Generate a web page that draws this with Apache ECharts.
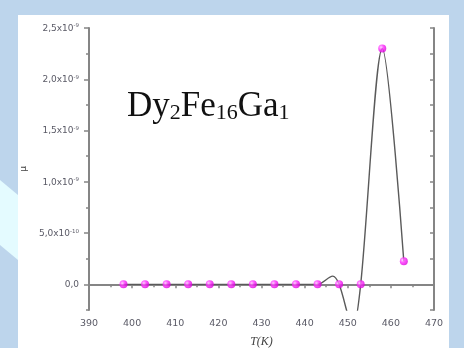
<!DOCTYPE html>
<html>
<head>
<meta charset="utf-8">
<script src="https://cdn.jsdelivr.net/npm/echarts@6/dist/echarts.min.js"></script>
<style>
html,body{margin:0;padding:0;background:#bdd5ec;}
#c{width:464px;height:348px;}
</style>
</head>
<body>
<div id="c"></div>
<script>
// measured points
const temps = [398,403,408,413,418,423,428,433,438,443,448,453,458,463];
const mu = [0,0,0,0,0,0,0,0,0,0,0,0,2.30e-9,2.25e-10];
// fitted curve
const curveT = [398,403,408,413,418,423,428,433,438,443,446.5,448,451.2,453,458,463];
const curveMu = [0,0,0,0,0,0,0,0,0,0,8e-11,0,-4.2e-10,0,2.30e-9,2.25e-10];
// tick labels
const xTicks = [390,400,410,420,430,440,450,460,470];
const yMajor = [0,5e-10,1e-9,1.5e-9,2e-9,2.5e-9];
const yMinor = [-2.5e-10,2.5e-10,7.5e-10,1.25e-9,1.75e-9,2.25e-9];
const yMant = ['0,0','5,0x10','1,0x10','1,5x10','2,0x10','2,5x10'];
const yExp = ['','-10','-9','-9','-9','-9'];

const chart = echarts.init(document.getElementById('c'));
const axisCol = '#858585';
const labCol = '#5a5a66';

function yFmt(v){
  let idx = -1;
  for (let i=0;i<yMajor.length;i++){ if (Math.abs(v-yMajor[i]) < 1e-12) idx = i; }
  if (idx < 0) return '';
  if (!yExp[idx]) return '{n|' + yMant[idx] + '}';
  return '{n|' + yMant[idx] + '}{s|' + yExp[idx] + '}';
}

const ballColor = new echarts.graphic.RadialGradient(0.35,0.35,0.7,[
  {offset:0,color:'#ffc8ff'},{offset:0.45,color:'#ff2cff'},{offset:1,color:'#d800d8'}
]);

chart.setOption({
  animation:false,
  backgroundColor:'#bdd5ec',
  graphic:[
    {type:'polygon', z:-20, shape:{points:[[0,180],[18,195],[18,260],[0,245]]}, style:{fill:'#e4fbff'}},
    {type:'rect', z:-10, shape:{x:18,y:15,width:431,height:333}, style:{fill:'#ffffff'}},
    {type:'text', left:127, top:89, z:10, style:{
      text:'{m|Dy}{s|2}{m|Fe}{s|16}{m|Ga}{s|1}',
      rich:{
        m:{fontSize:35,fontFamily:'Liberation Serif',fill:'#111',lineHeight:37,verticalAlign:'bottom'},
        s:{fontSize:22,fontFamily:'Liberation Serif',fill:'#111',lineHeight:20,verticalAlign:'bottom'}
      }
    }}
  ],
  grid:{left:89,right:30,top:28,bottom:38,outerBoundsMode:'none',containLabel:false},
  xAxis:[{
    type:'value', min:390, max:470, interval:10, position:'bottom',
    name:'T(K)', nameLocation:'middle', nameGap:26,
    nameTextStyle:{fontFamily:'Liberation Serif',fontStyle:'italic',fontSize:12,color:'#444'},
    axisLine:{lineStyle:{color:axisCol,width:2}},
    axisTick:{show:true,inside:false,length:4,lineStyle:{color:axisCol,width:1.5}},
    minorTick:{show:true,splitNumber:2,length:3,lineStyle:{color:axisCol,width:1.5}},
    axisLabel:{margin:9,fontSize:9.5,fontFamily:'DejaVu Sans',color:labCol,
      customValues:xTicks, formatter:v=>String(v)},
    splitLine:{show:false}
  },{
    type:'value', min:390, max:470, interval:10, position:'top',
    axisLine:{lineStyle:{color:axisCol,width:2}},
    axisTick:{show:true,inside:true,length:3,lineStyle:{color:axisCol,width:1.5}},
    minorTick:{show:false},
    axisLabel:{show:false}, splitLine:{show:false}
  }],
  yAxis:[{
    type:'value', min:-2.5e-10, max:2.5e-9, interval:2.5e-10, position:'left',
    name:'μ', nameLocation:'middle', nameGap:61, nameRotate:90,
    nameTextStyle:{fontSize:9,color:'#444',fontFamily:'DejaVu Sans'},
    axisLine:{lineStyle:{color:axisCol,width:2}},
    axisTick:{show:true,length:5,customValues:yMajor,lineStyle:{color:axisCol,width:1.5}},
    axisLabel:{margin:10,customValues:yMajor,formatter:yFmt,
      rich:{
        n:{fontSize:9,fontFamily:'DejaVu Sans',color:labCol,lineHeight:10,verticalAlign:'bottom',padding:[3,0,0,0]},
        s:{fontSize:5.5,fontFamily:'DejaVu Sans',color:labCol,lineHeight:7,verticalAlign:'top'}
      }},
    splitLine:{show:false}
  },{
    type:'value', min:-2.5e-10, max:2.5e-9, interval:2.5e-10, position:'left',
    axisLine:{show:false},
    axisTick:{show:true,length:3,customValues:yMinor,lineStyle:{color:axisCol,width:1.5}},
    axisLabel:{show:false}, splitLine:{show:false}
  },{
    type:'value', min:-2.5e-10, max:2.5e-9, interval:2.5e-10, position:'right',
    axisLine:{lineStyle:{color:axisCol,width:2}},
    axisTick:{show:true,inside:true,length:4,lineStyle:{color:axisCol,width:1.5}},
    axisLabel:{show:false}, splitLine:{show:false}
  }],
  series:[{
    type:'line', xAxisIndex:0, yAxisIndex:0,
    data:curveT.map((t,i)=>[t,curveMu[i]]),
    smooth:0.3, showSymbol:false, symbol:'none', clip:true,
    lineStyle:{color:'#5a5a5a',width:1.4}, z:2
  },{
    type:'scatter', xAxisIndex:0, yAxisIndex:0,
    data:temps.map((t,i)=>[t,mu[i]]),
    symbol:'circle', symbolSize:8,
    itemStyle:{color:ballColor}, z:3
  }]
});
</script>
</body>
</html>
